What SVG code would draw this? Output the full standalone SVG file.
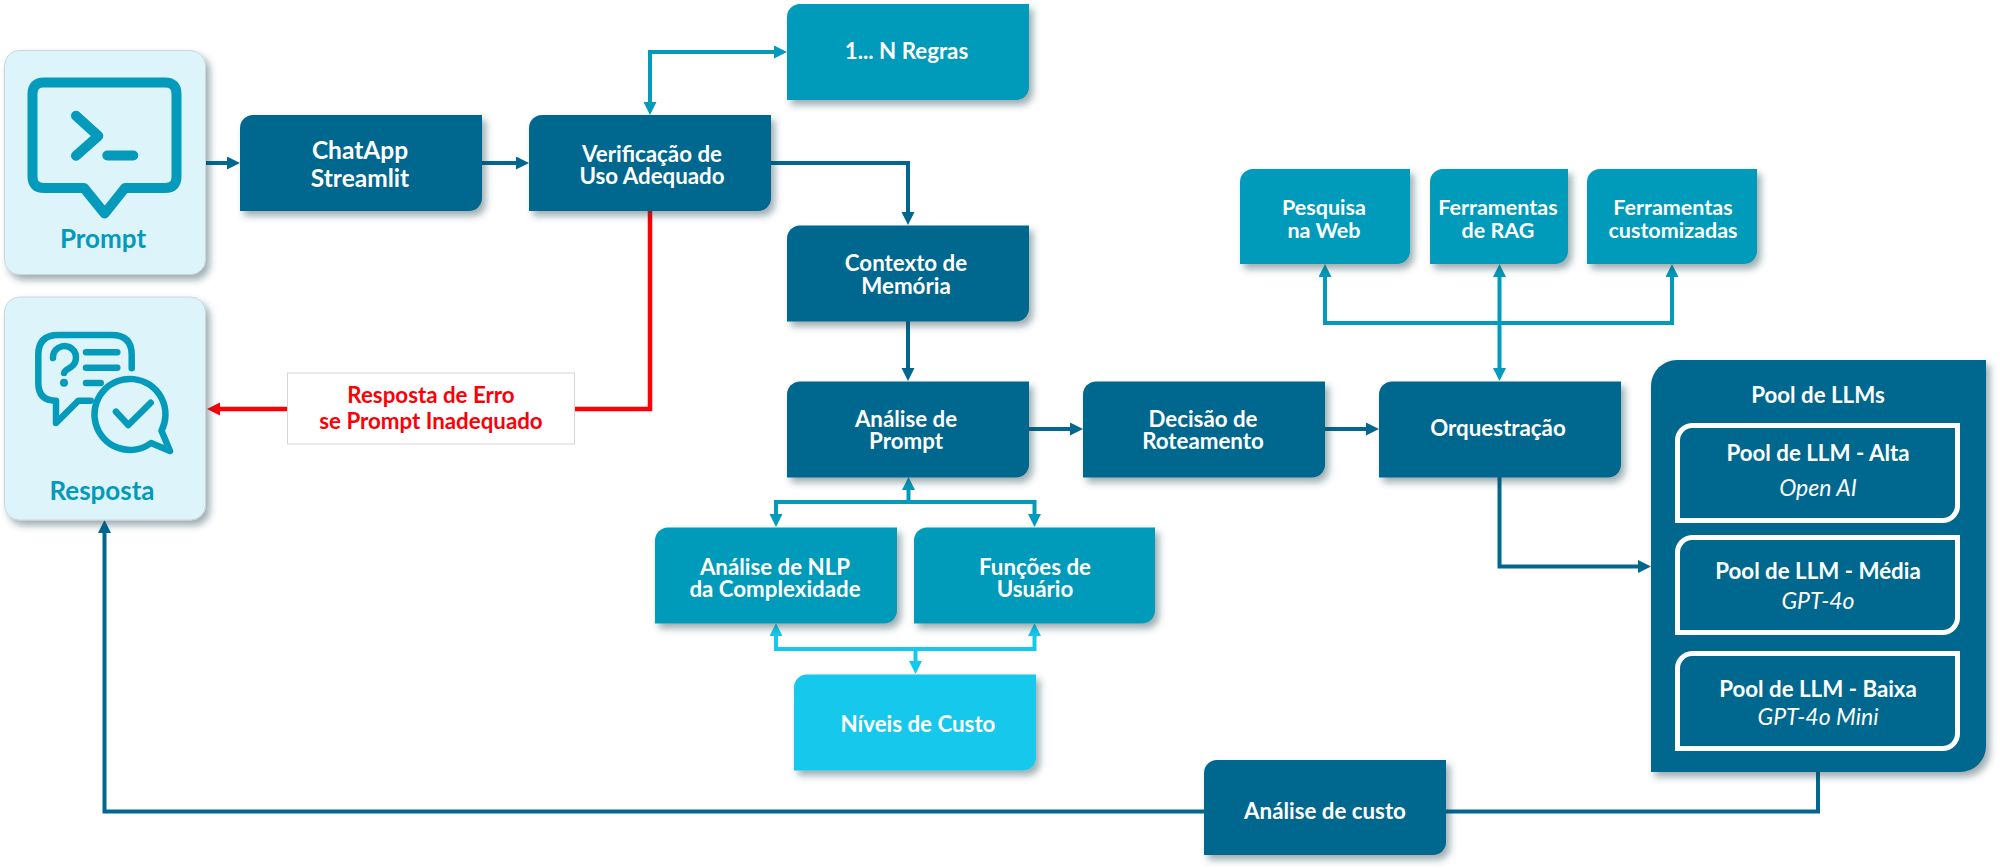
<svg xmlns="http://www.w3.org/2000/svg" width="2000" height="868" viewBox="0 0 2000 868">
<style>
text{font-family:"Lato","Liberation Sans",sans-serif;font-weight:700;text-anchor:middle;fill:#fff;transform:translateY(1.5px)}
.t{font-size:22.3px}
.b{font-size:24.5px}
.s{font-size:21.5px}
.i{font-size:23px;font-weight:400;font-style:italic}
.dark{fill:#02678f;filter:url(#sh)}
.mid{fill:#039abb;filter:url(#sh)}
.light{fill:#16c9ec;filter:url(#sh)}
.pale{fill:#def4fb;stroke:#c9d6db;stroke-width:1;filter:url(#sh)}
.out{fill:none;stroke:#fff;stroke-width:5}
.c{fill:none;stroke-width:4;stroke-linejoin:miter}
.cd{stroke:#02678f}
.cm{stroke:#039abb}
.cl{stroke:#16c9ec}
.cr{stroke:#fb0007;stroke-width:4.5}
.ic{fill:none;stroke:#039abb;stroke-linecap:round;stroke-linejoin:round}
.lab{fill:#039abb;font-size:26px;transform:none}
.red{fill:#fb0007;font-size:22.3px}
</style>
<defs>
<filter id="sh" x="-10%" y="-10%" width="125%" height="130%"><feDropShadow dx="4" dy="5" stdDeviation="3.5" flood-color="#1d3c4a" flood-opacity=".42"/></filter>
<marker id="ad" markerUnits="userSpaceOnUse" markerWidth="14" markerHeight="14" refX="7" refY="6.5" orient="auto-start-reverse"><path d="M0 0L13 6.5L0 13z" fill="#02678f"/></marker>
<marker id="am" markerUnits="userSpaceOnUse" markerWidth="14" markerHeight="14" refX="7" refY="6.5" orient="auto-start-reverse"><path d="M0 0L13 6.5L0 13z" fill="#039abb"/></marker>
<marker id="al" markerUnits="userSpaceOnUse" markerWidth="14" markerHeight="14" refX="7" refY="6.5" orient="auto-start-reverse"><path d="M0 0L13 6.5L0 13z" fill="#16c9ec"/></marker>
<marker id="ar" markerUnits="userSpaceOnUse" markerWidth="14" markerHeight="14" refX="7" refY="6.5" orient="auto-start-reverse"><path d="M0 0L13 6.5L0 13z" fill="#fb0007"/></marker>
</defs>
<rect width="2000" height="868" fill="#fff"/>

<g id="connectors">
<path class="c cd" d="M206 163H234" marker-end="url(#ad)"/>
<path class="c cd" d="M482 163H523" marker-end="url(#ad)"/>
<path class="c cm" d="M650 109V52H781" marker-start="url(#am)" marker-end="url(#am)"/>
<path class="c cd" d="M771 163H908V219" marker-end="url(#ad)"/>
<path class="c cd" d="M908 321V375" marker-end="url(#ad)"/>
<path class="c cm" d="M908.500 502V483" marker-end="url(#am)"/>
<path class="c cm" d="M776 521V502H1034.500V521" marker-start="url(#am)" marker-end="url(#am)"/>
<path class="c cl" d="M776 629V649H1034.500V629" marker-start="url(#al)" marker-end="url(#al)"/>
<path class="c cl" d="M915.500 649V668" marker-end="url(#al)"/>
<path class="c cd" d="M1029 429H1077" marker-end="url(#ad)"/>
<path class="c cd" d="M1324 429H1373" marker-end="url(#ad)"/>
<path class="c cm" d="M1499.500 375V270" marker-start="url(#am)" marker-end="url(#am)"/>
<path class="c cm" d="M1325 270V323H1672V270" marker-start="url(#am)" marker-end="url(#am)"/>
<path class="c cd" d="M1499.500 477V566.500H1645" marker-end="url(#ad)"/>
<path class="c cd" d="M1818 772V811.500H104.500V526" marker-end="url(#ad)"/>
<path class="c cr" d="M650 211V409H213" marker-end="url(#ar)"/>
</g>

<g id="prompt">
<rect class="pale" x="4.500" y="50.500" width="201" height="224" rx="15"/>
<path class="ic" stroke-width="10" d="M44 82.500H165Q176.500 82.500 176.500 94V176.500Q176.500 188 165 188H125L104.700 213.500L84 188H44Q32.500 188 32.500 176.500V94Q32.500 82.500 44 82.500Z"/>
<path class="ic" stroke-width="10" d="M76 115.700L98.300 136L76 155.700M107.300 155.500H133.300"/>
<text class="lab" x="103" y="247.500">Prompt</text>
</g>

<g id="resposta">
<rect class="pale" x="4.500" y="297" width="201" height="223" rx="15"/>
<path class="ic" stroke-width="6.500" d="M131.700 368.300V355Q131.700 335 111.700 335H58.300Q38.300 335 38.300 355V383Q38.300 400.700 56 400.700V423L78.300 400.700H90.700"/>
<path class="ic" stroke-width="6.500" d="M53 358A11.500 11.500 0 1 1 71 367Q64 371 64 373M86 352.300H117.300M86 367.700H117.300M86 383H100.700"/>
<circle cx="64" cy="382.700" r="4" fill="#039abb"/>
<path class="ic" stroke-width="6.500" d="M161.500 430.700L170 451L151 443A35.500 35.500 0 1 1 161.500 430.700ZM116 411.700L128.300 425L150.700 402.700"/>
<text class="lab" x="102" y="499.500">Resposta</text>
</g>

<g id="chatapp"><path class="dark" d="M253 115H482V198A13 13 0 0 1 469 211H240V128A13 13 0 0 1 253 115Z"/><text class="b" x="360" y="157">ChatApp</text><text class="b" x="360" y="185">Streamlit</text></g>
<g id="verificacao"><path class="dark" d="M542 115H771V198A13 13 0 0 1 758 211H529V128A13 13 0 0 1 542 115Z"/><text class="t" x="652" y="160">Verificação de</text><text class="t" x="652" y="182">Uso Adequado</text></g>
<g id="regras"><path class="mid" d="M800 4H1029V87A13 13 0 0 1 1016 100H787V17A13 13 0 0 1 800 4Z"/><text class="t" x="906.500" y="57">1... N Regras</text></g>
<g id="contexto"><path class="dark" d="M800 225.500H1029V308.500A13 13 0 0 1 1016 321.500H787V238.500A13 13 0 0 1 800 225.500Z"/><text class="t" x="906" y="269">Contexto de</text><text class="t" x="906" y="292">Memória</text></g>
<g id="analise-prompt"><path class="dark" d="M800 381.500H1029V464.500A13 13 0 0 1 1016 477.500H787V394.500A13 13 0 0 1 800 381.500Z"/><text class="t" x="906" y="425">Análise de</text><text class="t" x="906" y="447">Prompt</text></g>
<g id="analise-nlp"><path class="mid" d="M668 527.500H897V610.500A13 13 0 0 1 884 623.500H655V540.500A13 13 0 0 1 668 527.500Z"/><text class="t" x="775" y="573">Análise de NLP</text><text class="t" x="775" y="595">da Complexidade</text></g>
<g id="funcoes"><path class="mid" d="M927 527.500H1155V610.500A13 13 0 0 1 1142 623.500H914V540.500A13 13 0 0 1 927 527.500Z"/><text class="t" x="1035" y="573">Funções de</text><text class="t" x="1035" y="595">Usuário</text></g>
<g id="niveis"><path class="light" d="M807 674.500H1036V757.500A13 13 0 0 1 1023 770.500H794V687.500A13 13 0 0 1 807 674.500Z"/><text class="t" x="918" y="730">Níveis de Custo</text></g>
<g id="decisao"><path class="dark" d="M1096 381.500H1325V464.500A13 13 0 0 1 1312 477.500H1083V394.500A13 13 0 0 1 1096 381.500Z"/><text class="t" x="1203" y="425">Decisão de</text><text class="t" x="1203" y="447">Roteamento</text></g>
<g id="orquestracao"><path class="dark" d="M1392 381.500H1621V464.500A13 13 0 0 1 1608 477.500H1379V394.500A13 13 0 0 1 1392 381.500Z"/><text class="t" x="1498" y="434">Orquestração</text></g>
<g id="pesquisa"><path class="mid" d="M1253 169H1410V251A13 13 0 0 1 1397 264H1240V182A13 13 0 0 1 1253 169Z"/><text class="s" x="1324" y="213">Pesquisa</text><text class="s" x="1324" y="236">na Web</text></g>
<g id="rag"><path class="mid" d="M1443 169H1568V251A13 13 0 0 1 1555 264H1430V182A13 13 0 0 1 1443 169Z"/><text class="s" x="1498" y="213">Ferramentas</text><text class="s" x="1498" y="236">de RAG</text></g>
<g id="customizadas"><path class="mid" d="M1600 169H1757V251A13 13 0 0 1 1744 264H1587V182A13 13 0 0 1 1600 169Z"/><text class="s" x="1673" y="213">Ferramentas</text><text class="s" x="1673" y="236">customizadas</text></g>
<g id="analise-custo"><path class="dark" d="M1217 760H1446V842A13 13 0 0 1 1433 855H1204V773A13 13 0 0 1 1217 760Z"/><text class="t" x="1325" y="817">Análise de custo</text></g>

<g id="pool">
<path class="dark" d="M1677 360H1986V746A26 26 0 0 1 1960 772H1651V386A26 26 0 0 1 1677 360Z"/>
<text class="t" x="1818" y="401">Pool de LLMs</text>
<path class="out" d="M1692 425.500H1957.500V505A15 15 0 0 1 1942.500 520.500H1677.500V441A15 15 0 0 1 1692 425.500Z"/>
<text class="t" x="1818" y="459">Pool de LLM - Alta</text><text class="i" x="1818" y="494">Open AI</text>
<path class="out" d="M1692 537.500H1957.500V617A15 15 0 0 1 1942.500 632.500H1677.500V553A15 15 0 0 1 1692 537.500Z"/>
<text class="t" x="1818" y="577">Pool de LLM - Média</text><text class="i" x="1818" y="607">GPT-4o</text>
<path class="out" d="M1692 653.500H1957.500V733A15 15 0 0 1 1942.500 748.500H1677.500V669A15 15 0 0 1 1692 653.500Z"/>
<text class="t" x="1818" y="695">Pool de LLM - Baixa</text><text class="i" x="1818" y="723">GPT-4o Mini</text>
</g>

<g id="erro">
<rect x="287.500" y="373" width="287" height="71" fill="#fff" stroke="#d6d6d6" stroke-width="1"/>
<text class="red" x="431" y="401">Resposta de Erro</text>
<text class="red" x="431" y="427">se Prompt Inadequado</text>
</g>
</svg>
